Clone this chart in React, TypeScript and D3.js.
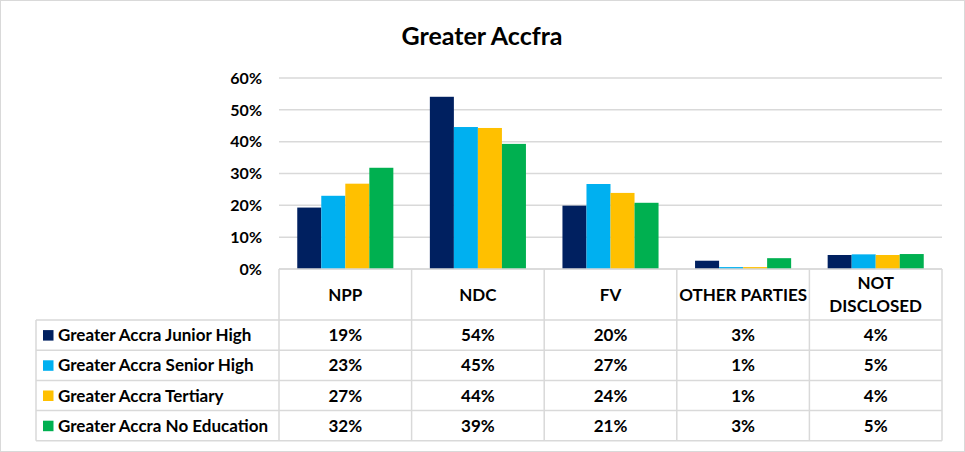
import React from "react";
import * as d3 from "d3";

const categories = ["NPP", "NDC", "FV", "OTHER PARTIES", "NOT DISCLOSED"];
const headerLines = [["NPP"], ["NDC"], ["FV"], ["OTHER PARTIES"], ["NOT", "DISCLOSED"]];
const seriesNames = [
  "Greater Accra Junior High",
  "Greater Accra Senior High",
  "Greater Accra Tertiary",
  "Greater Accra No Education",
];
const seriesColors = ["#002060", "#00B0F0", "#FFC000", "#00B050"];
const juniorHigh = [0.193, 0.541, 0.199, 0.026, 0.044];
const seniorHigh = [0.23, 0.446, 0.267, 0.006, 0.046];
const tertiary = [0.268, 0.443, 0.239, 0.006, 0.044];
const noEducation = [0.318, 0.393, 0.208, 0.034, 0.047];
const seriesValues = [juniorHigh, seniorHigh, tertiary, noEducation];
const yTicks = [0, 0.1, 0.2, 0.3, 0.4, 0.5, 0.6];

const W = 965;
const H = 452;
const plotLeft = 279;
const plotRight = 942;
const plotTop = 78;
const plotBottom = 269;
const headerBottom = 320;
const rowH = 30.2;
const legendLeft = 36;
const font = "Lato, 'Open Sans', sans-serif";
const gridColor = "#D9D9D9";

export default function App() {
  const x = d3.scaleBand<string>().domain(categories).range([plotLeft, plotRight]).paddingInner(0).paddingOuter(0);
  const inner = d3
    .scaleBand<number>()
    .domain(d3.range(seriesNames.length))
    .range([0, x.bandwidth()])
    .paddingInner(0)
    .paddingOuter(0.76);
  const y = d3.scaleLinear().domain([0, 0.6]).range([plotBottom, plotTop]);
  const fmt = d3.format(".0%");
  const tableBottom = headerBottom + rowH * seriesNames.length;

  return (
    <svg
      width={W}
      height={H}
      style={{ position: "absolute", left: 0, top: 0, background: "#fff" }}
      fontFamily={font}
    >
      <rect x={0.5} y={0.5} width={W - 1} height={H - 1} fill="#fff" stroke="#D9D9D9" />
      <text x={482} y={45} textAnchor="middle" fontSize={25} fontWeight="bold" fill="#000">
        Greater Accfra
      </text>
      {yTicks.map((t) => (
        <g key={t}>
          <line x1={plotLeft} x2={plotRight} y1={y(t)} y2={y(t)} stroke={gridColor} strokeWidth={1.5} />
          <text x={262} y={y(t)} dy="0.36em" textAnchor="end" fontSize={16} fontWeight="bold" fill="#000">
            {fmt(t)}
          </text>
        </g>
      ))}
      {seriesValues.map((vals, si) =>
        vals.map((v, ci) => (
          <rect
            key={`${si}-${ci}`}
            x={(x(categories[ci]) as number) + (inner(si) as number)}
            y={y(v)}
            width={inner.bandwidth()}
            height={plotBottom - y(v)}
            fill={seriesColors[si]}
          />
        ))
      )}
      {/* table lines */}
      <line x1={plotLeft} x2={plotRight} y1={plotBottom} y2={plotBottom} stroke={gridColor} strokeWidth={1.5} />
      {d3.range(seriesNames.length + 1).map((i) => (
        <line
          key={`h${i}`}
          x1={legendLeft}
          x2={plotRight}
          y1={headerBottom + i * rowH}
          y2={headerBottom + i * rowH}
          stroke={gridColor}
          strokeWidth={1.5}
        />
      ))}
      <line x1={legendLeft} x2={legendLeft} y1={headerBottom} y2={tableBottom} stroke={gridColor} strokeWidth={1.5} />
      {categories.map((c) => (
        <line
          key={`v${c}`}
          x1={x(c) as number}
          x2={x(c) as number}
          y1={plotBottom}
          y2={tableBottom}
          stroke={gridColor}
          strokeWidth={1.5}
        />
      ))}
      <line x1={plotRight} x2={plotRight} y1={plotBottom} y2={tableBottom} stroke={gridColor} strokeWidth={1.5} />
      {/* header */}
      {categories.map((c, ci) => {
        const lines = headerLines[ci];
        const cx = (x(c) as number) + x.bandwidth() / 2;
        const cy = (plotBottom + headerBottom) / 2;
        return (
          <text key={`hd${c}`} x={cx} textAnchor="middle" fontSize={17} fontWeight="bold" fill="#000">
            {lines.map((l, li) => (
              <tspan key={li} x={cx} y={cy + (li - (lines.length - 1) / 2) * 23} dy="0.36em">
                {l}
              </tspan>
            ))}
          </text>
        );
      })}
      {/* rows */}
      {seriesNames.map((name, si) => {
        const cy = headerBottom + si * rowH + rowH / 2;
        return (
          <g key={name}>
            <rect x={43} y={cy - 5} width={10.5} height={10.5} fill={seriesColors[si]} />
            <text x={58} y={cy} dy="0.36em" fontSize={17} fontWeight="bold" fill="#000">
              {name}
            </text>
            {seriesValues[si].map((v, ci) => (
              <text
                key={ci}
                x={(x(categories[ci]) as number) + x.bandwidth() / 2}
                y={cy}
                dy="0.36em"
                textAnchor="middle"
                fontSize={17}
                fontWeight="bold"
                fill="#000"
              >
                {fmt(v)}
              </text>
            ))}
          </g>
        );
      })}
    </svg>
  );
}
